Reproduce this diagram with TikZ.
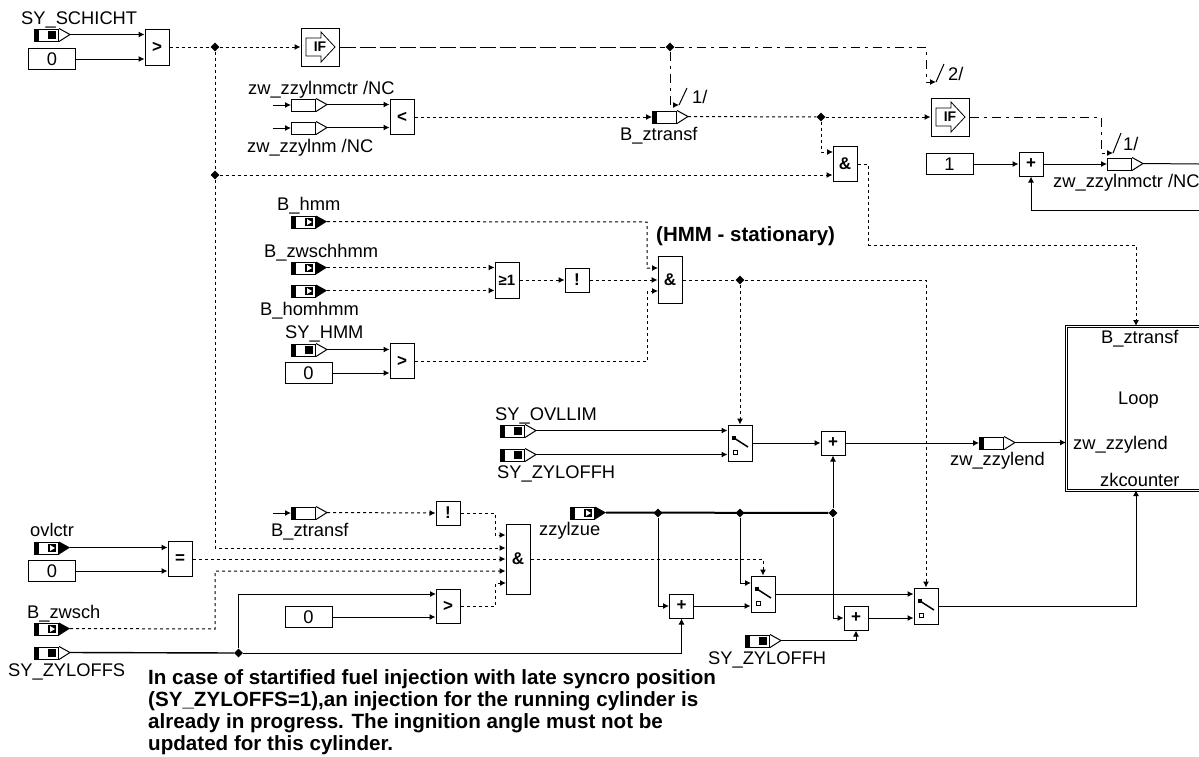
\documentclass[tikz,border=0pt]{standalone}
\usepackage{fontspec}
\setmainfont{Liberation Sans}
\usetikzlibrary{arrows.meta,shapes.geometric}

\begin{document}
\begin{tikzpicture}[>={Latex[length=6pt,width=6pt]},x=1pt,y=-1pt,
  font=\fontsize{18.3}{20}\selectfont,
  varbox/.style={draw,line width=1pt,anchor=west,inner sep=0pt,minimum width=24pt,minimum height=12pt},
  gate/.style={draw,line width=1pt,inner sep=0pt,minimum width=24pt,font=\bfseries\fontsize{17}{17}\selectfont},
  conbox/.style={draw,line width=1pt,inner sep=0pt,minimum width=47pt,minimum height=21pt},
  jn/.style={diamond,fill=black,inner sep=0pt,minimum size=9pt},
  lbl/.style={anchor=base west,inner sep=0pt},
  sigline/.style={line width=1pt},
  sigfat/.style={line width=2pt},
  boolline/.style={line width=1pt,dash pattern=on 3pt off 3pt},
  iflong/.style={line width=1pt,dash pattern=on 16pt off 4pt},
  ifline/.style={line width=1pt,dash pattern=on 9pt off 5pt on 3pt off 5pt}]

  \clip (0,0) rectangle (1199,756);

  % ---- parameter inputs ----
  \foreach \n/\x/\y in {sySchicht/34/35, syHmm/291/350, syOvllim/500/431,
                        syZyloffhA/500/455, syZyloffs/34/653, syZyloffhB/745/641} {
    \node[varbox] (\n) at (\x,\y) {};
    \fill (\n.north west) rectangle ++(5,12);
    \fill ([shift={(14,-4)}]\n.west) rectangle ++(8,8);
    \draw[line width=1pt] (\n.north east) -- ++(11,6) coordinate (\n-tip) -- (\n.south east);
  }

  % ---- message inputs ----
  \foreach \n/\x/\y in {bHmm/291/222, bZwschhmm/291/268, bHomhmm/291/291,
                        ovlctr/34/548, bZwsch/34/629, zzylzue/570/513} {
    \node[varbox] (\n) at (\x,\y) {};
    \fill (\n.north west) rectangle ++(5,12);
    \fill ([shift={(14,-4)}]\n.west) rectangle ++(8,8);
    \fill[white] ([shift={(16,-3)}]\n.west) -- ++(5,3) -- ++(-5,3) -- cycle;
    \fill (\n.north east) -- ++(11,6) coordinate (\n-tip) -- (\n.south east) -- cycle;
  }

  % ---- written variables ----
  \foreach \n/\x/\y in {bZtransfA/652/117, bZtransfB/291/513, zwZzylend/979/443} {
    \node[varbox] (\n) at (\x,\y) {};
    \fill (\n.north west) rectangle ++(5,12);
    \draw[line width=1pt] (\n.north east) -- ++(11,6) coordinate (\n-tip) -- (\n.south east);
  }
  \foreach \n/\x/\y in {zwZzylnmctrA/291/105, zwZzylnmA/291/128, zwZzylnmctrB/1107/164} {
    \node[varbox] (\n) at (\x,\y) {};
    \draw[line width=1pt] (\n.north east) -- ++(11,6) coordinate (\n-tip) -- (\n.south east);
  }

  % ---- constants ----
  \foreach \n/\x/\y/\txt in {zeroA/52/59/0, zeroB/308.5/373/0, zeroC/52/571/0,
                             zeroD/308.5/617/0, oneA/949.5/164/1}
    \node[conbox] (\n) at (\x,\y) {\txt};

  % ---- gates ----
  \foreach \n/\x/\y/\h/\txt in {gtA/157/47/36/>, ltA/402/117/35/<, andA/845/164/35/\&,
                                plusA/1031/164/24/+, orA/507/280/36/{\fontsize{15}{15}\selectfont ≥1},
                                notA/577/280/24/!, andB/670/280/47/\&, gtB/402/361/35/>,
                                eqA/180/559/35/=, notB/448/513/24/!, gtC/448/606/34/>,
                                andC/518/559/70/\&, plusB/681.5/606/24/+, plusC/856/618/24/+,
                                plusD/833/443/24/+}
    \node[gate,minimum height=\h] (\n) at (\x,\y) {\txt};

  % ---- switches ----
  \foreach \n/\x/\y in {swA/740/443, swB/763/594, swC/926/606} {
    \node[gate,minimum height=36pt] (\n) at (\x,\y) {};
    \fill ([shift={(-8,-7)}]\n.center) rectangle ++(4,4);
    \draw[line width=1.5pt] ([shift={(-6,-5)}]\n.center) -- ++(14,9);
    \draw[line width=.7pt] ([shift={(-7,7)}]\n.center) rectangle ++(4,4);
  }

  % ---- IF blocks ----
  \foreach \n/\x/\y in {ifA/320/47, ifB/950/117} {
    \node[gate,minimum width=38pt,minimum height=38pt,font=\bfseries\fontsize{14}{14}\selectfont] (\n) at (\x,\y) {IF};
    \draw[line width=.8pt] ([shift={(-14,-9)}]\n.center) -- ++(15,0) -- ++(0,-6)
      -- ++(14,15) -- ++(-14,15) -- ++(0,-6) -- ++(-15,0) -- cycle;
  }

  % ---- loop block ----
  \node[draw,double,double distance=1.5pt,line width=.8pt,anchor=north west,inner sep=0pt,
        minimum width=160pt,minimum height=164pt] (loop) at (1066,326) {};
  \coordinate (loopTop) at (1136,326);
  \coordinate (loopBot) at (1136,490);

  % ---- labels ----
  \foreach \n/\x/\y/\txt in {
      lblSySchicht/21/24/{SY\_SCHICHT},
      lblNmctrA/248/94/{zw\_zzylnmctr /NC},
      lblNmA/247/152/{zw\_zzylnm /NC},
      lblTransfA/620/140/{B\_ztransf},
      lblNmctrB/1053/187/{zw\_zzylnmctr /NC},
      lblHmm/277/210/{B\_hmm},
      lblZwschhmm/264/257/{B\_zwschhmm},
      lblHomhmm/260/315/{B\_homhmm},
      lblSyHmm/285/338/{SY\_HMM},
      lblOvllim/495/420/{SY\_OVLLIM},
      lblOffhA/497/478/{SY\_ZYLOFFH},
      lblZylend/950/465/{zw\_zzylend},
      lblOvlctr/30/536/{ovlctr},
      lblTransfB/271/536/{B\_ztransf},
      lblZwsch/27/618/{B\_zwsch},
      lblOffs/8/676/{SY\_ZYLOFFS},
      lblZue/539/535/{zzylzue},
      lblOffhB/708/664/{SY\_ZYLOFFH},
      lblLoopA/1101/343/{B\_ztransf},
      lblLoopB/1118/404/{Loop},
      lblLoopC/1073/449/{zw\_zzylend},
      lblLoopD/1100/486/{zkcounter},
      lblHookA/692/103/{1/},
      lblHookB/948/80/{2/},
      lblHookC/1123/150/{1/}}
    \node[lbl] (\n) at (\x,\y) {\txt};
  \node[lbl,font=\bfseries\fontsize{20.5}{22}\selectfont] (lblStat) at (656,241) {(HMM - stationary)};
  \node[anchor=north west,inner sep=0pt,align=left,font=\bfseries\fontsize{20.6}{22}\selectfont] (note) at (148,669)
    {In case of startified fuel injection with late syncro position\\
     (SY\_ZYLOFFS=1),an injection for the running cylinder is\\
     already in progress. The ingnition angle must not be\\
     updated for this cylinder.};

  % ---- junctions ----
  \foreach \n/\x/\y in {jnA/215/47, jnB/215/175, jnC/670/47, jnD/821/117, jnE/740/280,
                        jnF/238.5/653, jnG/658/513, jnH/740/513, jnI/833/513}
    \node[jn] (\n) at (\x,\y) {};

  % ---- free ends and corners ----
  \coordinate (stubA) at (273,105);
  \coordinate (stubB) at (273,128);
  \coordinate (stubC) at (273,513);
  \coordinate (edgeA) at (1199,164);
  \coordinate (edgeB) at (1199,210);
  \coordinate (hookA) at (679,105);
  \coordinate (hookB) at (936,82);
  \coordinate (hookC) at (1113,153);
  \coordinate (kneeA) at (495,535);
  \coordinate (kneeB) at (215,548);
  \coordinate (kneeC) at (926,47);
  \coordinate (kneeD) at (1101,117);
  \coordinate (kneeE) at (868,245);
  \coordinate (kneeG) at (647,222);
  \coordinate (kneeH) at (647,361);
  \coordinate (kneeK) at (495,606);
  \coordinate (kneeL) at (215,629);
  \coordinate (kneeM) at (215,571);
  \coordinate (portA) at (833,152);
  \coordinate (portB) at (658,268);
  \coordinate (portC) at (658,291);
  \coordinate (portD) at (751,583);
  \coordinate (portE) at (436,594);
  \coordinate (portF) at (506,583);

  % ---- top row ----
  \draw[sigline,->] (sySchicht-tip) -- (sySchicht-tip -| gtA.west);
  \draw[sigline,->] (zeroA) -- (zeroA -| gtA.west);
  \draw[boolline] (gtA.east) -- (jnA);
  \draw[boolline,->] (jnA) -- (ifA.west);
  \draw[boolline] (jnA) -- (jnB);
  \draw[boolline,->] (jnB) |- (kneeB -| andC.west);
  \draw[boolline,->] (jnB) -- (jnB -| andA.west);
  \draw[iflong] (ifA.east) -- (jnC);
  \draw[ifline,->] (jnC) |- (hookA);
  \draw[sigline] (hookA) -- ++(8,-17);
  \draw[ifline,->] (jnC) -- (kneeC) |- (hookB);
  \draw[sigline] (hookB) -- ++(8,-18);
  \draw[sigline,->] (stubA) -- (zwZzylnmctrA.west);
  \draw[sigline,->] (stubB) -- (zwZzylnmA.west);
  \draw[sigline,->] (zwZzylnmctrA-tip) -- (zwZzylnmctrA-tip -| ltA.west);
  \draw[sigline,->] (zwZzylnmA-tip) -- (zwZzylnmA-tip -| ltA.west);
  \draw[boolline,->] (ltA.east) -- (bZtransfA.west);
  \draw[boolline] (bZtransfA-tip) -- (jnD);
  \draw[boolline,->] (jnD) -- (ifB.west);
  \draw[boolline,->] (jnD) |- (portA);
  \draw[ifline,->] (ifB.east) -- (kneeD) |- (hookC);
  \draw[sigline] (hookC) -- ++(8,-20);
  \draw[sigline,->] (oneA) -- (plusA.west);
  \draw[sigline,->] (plusA.east) -- (zwZzylnmctrB.west);
  \draw[sigline] (zwZzylnmctrB-tip) -- (edgeA);
  \draw[sigline,->] (edgeB) -| (plusA.south);
  \draw[boolline] (andA.east) -| (kneeE);
  \draw[boolline,->] (kneeE) -| (loopTop);

  % ---- HMM row ----
  \draw[boolline,->] (bHmm-tip) -- (kneeG) |- (portB);
  \draw[boolline,->] (bZwschhmm-tip) -- (bZwschhmm-tip -| orA.west);
  \draw[boolline,->] (bHomhmm-tip) -- (bHomhmm-tip -| orA.west);
  \draw[boolline,->] (orA.east) -- (notA.west);
  \draw[boolline,->] (notA.east) -- (andB.west);
  \draw[sigline,->] (syHmm-tip) -- (syHmm-tip -| gtB.west);
  \draw[sigline,->] (zeroB) -- (zeroB -| gtB.west);
  \draw[boolline,->] (gtB.east) -- (kneeH) |- (portC);
  \draw[boolline] (andB.east) -- (jnE);
  \draw[boolline,->] (jnE) -- (swA.north);
  \draw[boolline,->] (jnE) -| (swC.north);

  % ---- loop inputs ----
  \draw[sigline,->] (syOvllim-tip) -- (syOvllim-tip -| swA.west);
  \draw[sigline,->] (syZyloffhA-tip) -- (syZyloffhA-tip -| swA.west);
  \draw[sigline,->] (swA.east) -- (plusD.west);
  \draw[sigline,->] (plusD.east) -- (zwZzylend.west);
  \draw[sigline,->] (zwZzylend-tip) -- (zwZzylend-tip -| loop.west);
  \draw[sigfat] (zzylzue-tip) -- (jnI);
  \draw[sigline,->] (jnI) -- (plusD.south);
  \draw[sigline,->] (jnI) |- (plusC.west);
  \draw[sigline,->] (jnH) |- (portD);
  \draw[sigline,->] (jnG) |- (plusB.west);
  \draw[sigline,->] (plusB.east) -- (plusB.east -| swB.west);
  \draw[sigline,->] (swB.east) -- (swB.east -| swC.west);
  \draw[sigline,->] (plusC.east) -- (plusC.east -| swC.west);
  \draw[sigline,->] (syZyloffhB-tip) -| (plusC.south);
  \draw[sigline,->] (swC.east) -| (loopBot);

  % ---- lower left ----
  \draw[sigline,->] (ovlctr-tip) -- (ovlctr-tip -| eqA.west);
  \draw[sigline,->] (zeroC) -- (zeroC -| eqA.west);
  \draw[boolline,->] (eqA.east) -- (eqA.east -| andC.west);
  \draw[boolline,->] (bZwsch-tip) -- (kneeL) |- (kneeM -| andC.west);
  \draw[sigline,->] (stubC) -- (bZtransfB.west);
  \draw[boolline,->] (bZtransfB-tip) -- (notB.west);
  \draw[boolline,->] (notB.east) -| (kneeA) -- (kneeA -| andC.west);
  \draw[boolline,->] (andC.east) -| (swB.north);
  \draw[sigline,line width=1.4pt] (syZyloffs-tip) -- (jnF);
  \draw[sigline,->] (jnF) -| (plusB.south);
  \draw[sigline,->] (jnF) |- (portE);
  \draw[sigline,->] (zeroD) -- (zeroD -| gtC.west);
  \draw[boolline,->] (gtC.east) -- (kneeK) |- (portF);

\end{tikzpicture}
\end{document}
